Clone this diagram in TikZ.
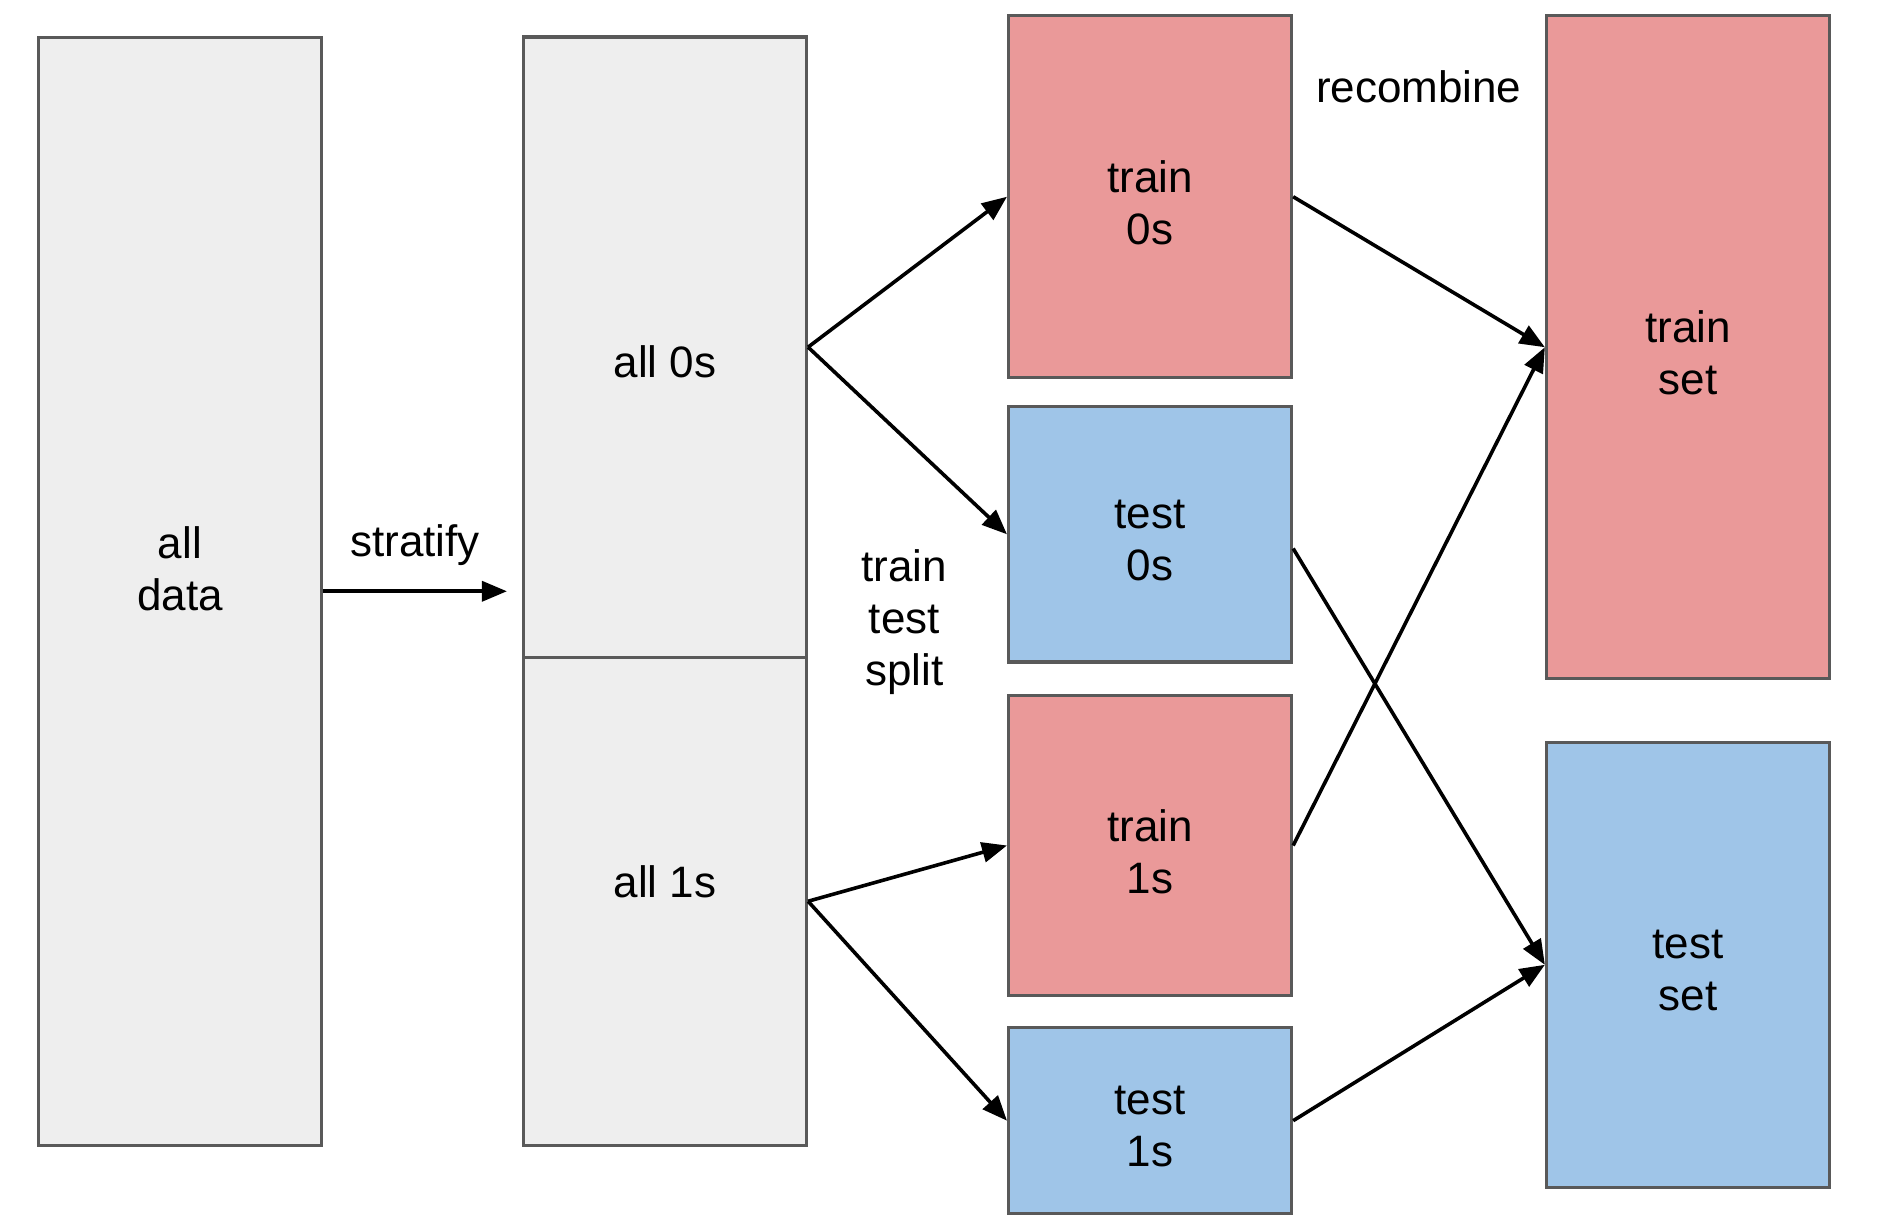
\documentclass[tikz,border=0pt]{standalone}
\usepackage{fontspec}
\setmainfont{Liberation Sans}
\usetikzlibrary{arrows.meta,calc}
\definecolor{greyfill}{HTML}{EEEEEE}
\definecolor{edge}{HTML}{595959}
\definecolor{redfill}{HTML}{EA9999}
\definecolor{bluefill}{HTML}{9FC5E8}
\begin{document}
\begin{tikzpicture}[x=0.9961pt,y=-0.9961pt,
  every node/.style={font=\fontsize{44}{52}\selectfont, align=center, inner sep=0pt},
  box/.style={draw=edge, line width=3.3pt, minimum width=282.9pt},
  greybox/.style={box, fill=greyfill},
  redbox/.style={box, fill=redfill},
  bluebox/.style={box, fill=bluefill},
  boxtext/.style={label={[yshift=-6pt]center:#1}},
  txt/.style={},
  arr/.style={line width=3.6pt, -{Triangle[length=25pt,width=20pt]}}
]
\useasboundingbox (0,0) rectangle (1885.4,1236.8);
% boxes
\node[greybox, minimum height=1108.2pt] (alldata) at (180.6,593.6) {};
\node[greybox, minimum height=620.1pt] (all0s) at (667.6,348.5) {};
\node[greybox, minimum height=488.1pt] (all1s) at (667.6,904.8) {};
\node[redbox, minimum height=362.2pt, boxtext={train\\0s}] (train0s) at (1154.6,197.5) {};
\node[bluebox, minimum height=255.4pt, boxtext={test\\0s}] (test0s) at (1154.6,536.4) {};
\node[redbox, minimum height=299.8pt, boxtext={train\\1s}] (train1s) at (1154.6,848.8) {};
\node[bluebox, minimum height=185.9pt, boxtext={test\\1s}] (test1s) at (1154.6,1125.1) {};
\node[redbox, minimum height=663.2pt, boxtext={train\\set}] (trainset) at (1694.6,348.6) {};
\node[bluebox, minimum height=445.0pt, boxtext={test\\set}] (testset) at (1694.6,968.6) {};
% texts
\node[txt] (alldatatxt) at (180.6,570.7) {all\\data};
\node[txt] (all0stxt) at (667.6,363.6) {all 0s};
\node[txt] (all1stxt) at (667.6,885) {all 1s};
\node[txt] (stratify) at (416.6,547.4) {stratify};
\node[txt] (tts) at (907.8,624.5) {train\\test\\split};
\node[txt] (recombine) at (1424.3,86.7) {recombine};
% connectors
\coordinate (stratend) at ($(all0s.west |- alldata.east)+(-15,0)$);
\draw[arr] (alldata.east) -- (stratend);
\draw[arr] (all0s.east) -- (train0s.west);
\draw[arr] (all0s.east) -- (test0s.west);
\draw[arr] (all1s.east) -- (train1s.west);
\draw[arr] (all1s.east) -- (test1s.west);
\draw[arr] (train0s.east) -- (trainset.west);
\draw[arr] ($(test0s.north east)!0.555!(test0s.south east)$) -- (testset.west);
\draw[arr] (train1s.east) -- (trainset.west);
\draw[arr] (test1s.east) -- (testset.west);
\end{tikzpicture}
\end{document}
